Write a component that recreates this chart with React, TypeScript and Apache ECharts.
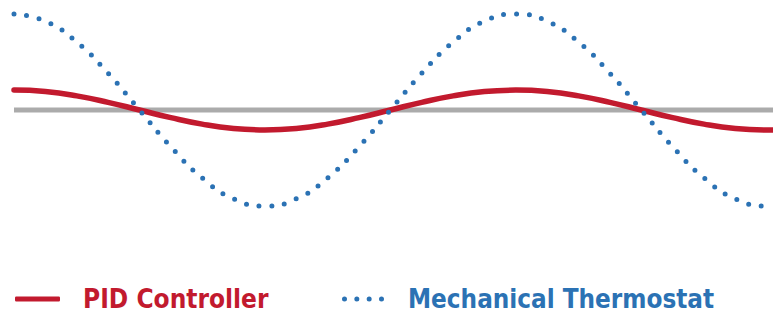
import React, { useEffect, useRef } from "react";
import * as echarts from "echarts";

const timeX = [0, 1.5, 3, 4.5, 6, 7.5, 9, 10.5, 12, 13.5, 15, 16.5, 18, 19.5, 21, 22.5, 24, 25.5, 27, 28.5, 30, 31.5, 33, 34.5, 36, 36.3];
const pidValues = [20.83, 20.77, 20.59, 20.32, 20.0, 19.68, 19.41, 19.23, 19.17, 19.23, 19.41, 19.68, 20.0, 20.32, 20.59, 20.77, 20.83, 20.77, 20.59, 20.32, 20.0, 19.68, 19.41, 19.23, 19.17, 19.17];
const thermoValues = [24.0, 23.7, 22.83, 21.53, 20.0, 18.47, 17.17, 16.3, 16.0, 16.3, 17.17, 18.47, 20.0, 21.53, 22.83, 23.7, 24.0, 23.7, 22.83, 21.53, 20.0, 18.47, 17.17, 16.3, 16.0, 16.0];
const setpoint = 20;
const seriesNames = ["PID Controller", "Mechanical Thermostat"];

const RED = "#c21a2e";
const BLUE = "#2b72b4";
const GRAY = "#ababab";
const FONT = "DejaVu Sans Condensed";

const dotsIcon =
  "path://M0,2.5a2.5,2.5 0 1,0 5,0a2.5,2.5 0 1,0 -5,0z" +
  "M12.33,2.5a2.5,2.5 0 1,0 5,0a2.5,2.5 0 1,0 -5,0z" +
  "M24.67,2.5a2.5,2.5 0 1,0 5,0a2.5,2.5 0 1,0 -5,0z" +
  "M37,2.5a2.5,2.5 0 1,0 5,0a2.5,2.5 0 1,0 -5,0z";

export default function App() {
  const ref = useRef<HTMLDivElement>(null);
  useEffect(() => {
    if (!ref.current) return;
    const chart = echarts.init(ref.current, null, { renderer: "svg" });
    const pair = (vals: number[]) => timeX.map((t, i) => [t, vals[i]]);
    chart.setOption({
      animation: false,
      grid: { left: 14, right: 0, top: 14, height: 192 },
      xAxis: { type: "value", min: 0, max: 36.3, show: false },
      yAxis: { type: "value", min: 16, max: 24, show: false },
      legend: [
        {
          data: [{ name: seriesNames[0], icon: "roundRect" }],
          left: 15,
          top: 286,
          padding: 0,
          itemWidth: 45,
          itemHeight: 5,
          itemStyle: { borderWidth: 0 },
          selectedMode: false,
          textStyle: {
            color: RED,
            fontFamily: FONT,
            fontWeight: "bold",
            fontSize: 26,
            padding: [0, 0, 0, 18],
          },
        },
        {
          data: [{ name: seriesNames[1], icon: dotsIcon }],
          left: 342,
          top: 286,
          padding: 0,
          itemWidth: 42,
          itemHeight: 5,
          itemStyle: { borderWidth: 0 },
          selectedMode: false,
          textStyle: {
            color: BLUE,
            fontFamily: FONT,
            fontWeight: "bold",
            fontSize: 25.8,
            padding: [0, 0, 0, 19],
          },
        },
      ],
      series: [
        {
          name: "Setpoint",
          type: "line",
          data: [[timeX[0], setpoint], [timeX[timeX.length - 1], setpoint]],
          symbol: "none",
          silent: true,
          z: 1,
          lineStyle: { color: GRAY, width: 5 },
        },
        {
          name: seriesNames[0],
          type: "line",
          data: pair(pidValues),
          smooth: true,
          symbol: "none",
          clip: false,
          z: 2,
          color: RED,
          lineStyle: { color: RED, width: 5.5, cap: "round" },
        },
        {
          name: seriesNames[1],
          type: "line",
          data: pair(thermoValues),
          smooth: true,
          symbol: "none",
          clip: false,
          z: 3,
          color: BLUE,
          lineStyle: { color: BLUE, width: 5, type: [0, 12.8], cap: "round" },
        },
      ],
    });
    return () => chart.dispose();
  }, []);
  return (
    <div
      ref={ref}
      style={{ position: "fixed", left: 0, top: 0, width: 773, height: 316, background: "#fff" }}
    />
  );
}
